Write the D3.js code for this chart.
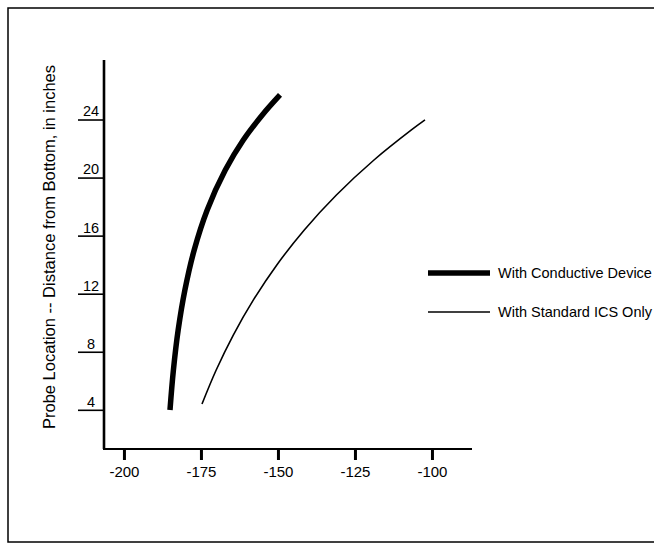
<!DOCTYPE html>
<html>
<head>
<meta charset="utf-8">
<script src="https://cdn.jsdelivr.net/npm/d3@7"></script>
<style>
  html, body { margin: 0; padding: 0; background: #fff; }
  svg { display: block; font-family: "Liberation Sans", Arial, sans-serif; }
</style>
</head>
<body>
<svg id="chart" width="654" height="544"></svg>
<script>
// ---- data ----
const xTicks = [-200, -175, -150, -125, -100];
const yTicks = [4, 8, 12, 16, 20, 24];
const seriesNames = ["With Conductive Device", "With Standard ICS Only"];
const conductiveX = [-185.05, -183.94, -182.39, -180.21, -177.19, -172.97, -167.09, -161.25, -155.08, -149.33];
const conductiveY = [3.99, 6.74, 9.50, 12.25, 15.01, 17.77, 20.52, 22.59, 24.31, 25.69];
const standardX = [-174.66, -170.05, -164.50, -157.97, -150.37, -141.45, -131.02, -118.82, -106.67, -102.26];
const standardY = [4.40, 6.74, 9.15, 11.57, 13.98, 16.39, 18.80, 21.21, 23.28, 23.97];
const yAxisTitle = "Probe Location -- Distance from Bottom, in inches";

// ---- layout ----
const svg = d3.select("#chart");
const x = d3.scaleLinear().domain([-206.8, -87]).range([103, 472]);
const y = d3.scaleLinear().domain([1.3, 28.1]).range([449, 60]);

// frame
svg.append("rect").attr("x", 8).attr("y", 8).attr("width", 660).attr("height", 534)
  .attr("fill", "none").attr("stroke", "#000").attr("stroke-width", 1.5);

// x axis
const xAxis = d3.axisBottom(x).tickValues(xTicks).tickSize(11).tickPadding(6)
  .tickFormat(d => String(d));
const gx = svg.append("g").attr("transform", "translate(0,449)").call(xAxis);
gx.attr("font-size", 15).attr("font-family", "Liberation Sans, Arial, sans-serif");
gx.select(".domain").attr("stroke-width", 2.2).attr("d", `M${x.range()[0]},0H${x.range()[1]}`);
gx.selectAll(".tick line").attr("stroke-width", 3);
gx.selectAll(".tick text").attr("fill", "#000");

// y axis
const yAxis = d3.axisLeft(y).tickValues(yTicks).tickSize(26).tickFormat(d => String(d));
const gy = svg.append("g").attr("transform", "translate(104,0)").call(yAxis);
gy.attr("font-size", 14.5).attr("font-family", "Liberation Sans, Arial, sans-serif");
gy.select(".domain").attr("stroke-width", 2.6).attr("d", `M0,${y.range()[0]}V${y.range()[1]}`);
gy.selectAll(".tick line").attr("stroke-width", 1.6);
gy.selectAll(".tick text").attr("fill", "#000")
  .attr("text-anchor", "middle").attr("x", -13).attr("dy", "-0.25em");

// y title
svg.append("text")
  .attr("transform", "translate(55,247) rotate(-90)")
  .attr("text-anchor", "middle").attr("font-size", 16.5).attr("fill", "#000")
  .text(yAxisTitle);

// curves
const line = d3.line().x(d => x(d[0])).y(d => y(d[1])).curve(d3.curveCatmullRom.alpha(0.5));
const conductive = conductiveX.map((v, i) => [v, conductiveY[i]]);
const standard = standardX.map((v, i) => [v, standardY[i]]);
svg.append("path").datum(conductive).attr("d", line)
  .attr("fill", "none").attr("stroke", "#000").attr("stroke-width", 5.5);
svg.append("path").datum(standard).attr("d", line)
  .attr("fill", "none").attr("stroke", "#000").attr("stroke-width", 1.6);

// legend
const legend = svg.append("g");
const widths = [5.5, 1.6];
const ly = [273, 312];
seriesNames.forEach((name, i) => {
  legend.append("line").attr("x1", 428).attr("x2", 490).attr("y1", ly[i]).attr("y2", ly[i])
    .attr("stroke", "#000").attr("stroke-width", widths[i]);
  legend.append("text").attr("x", 498).attr("y", ly[i] + 5).attr("font-size", 14.5)
    .attr("fill", "#000").text(name);
});
</script>
</body>
</html>
